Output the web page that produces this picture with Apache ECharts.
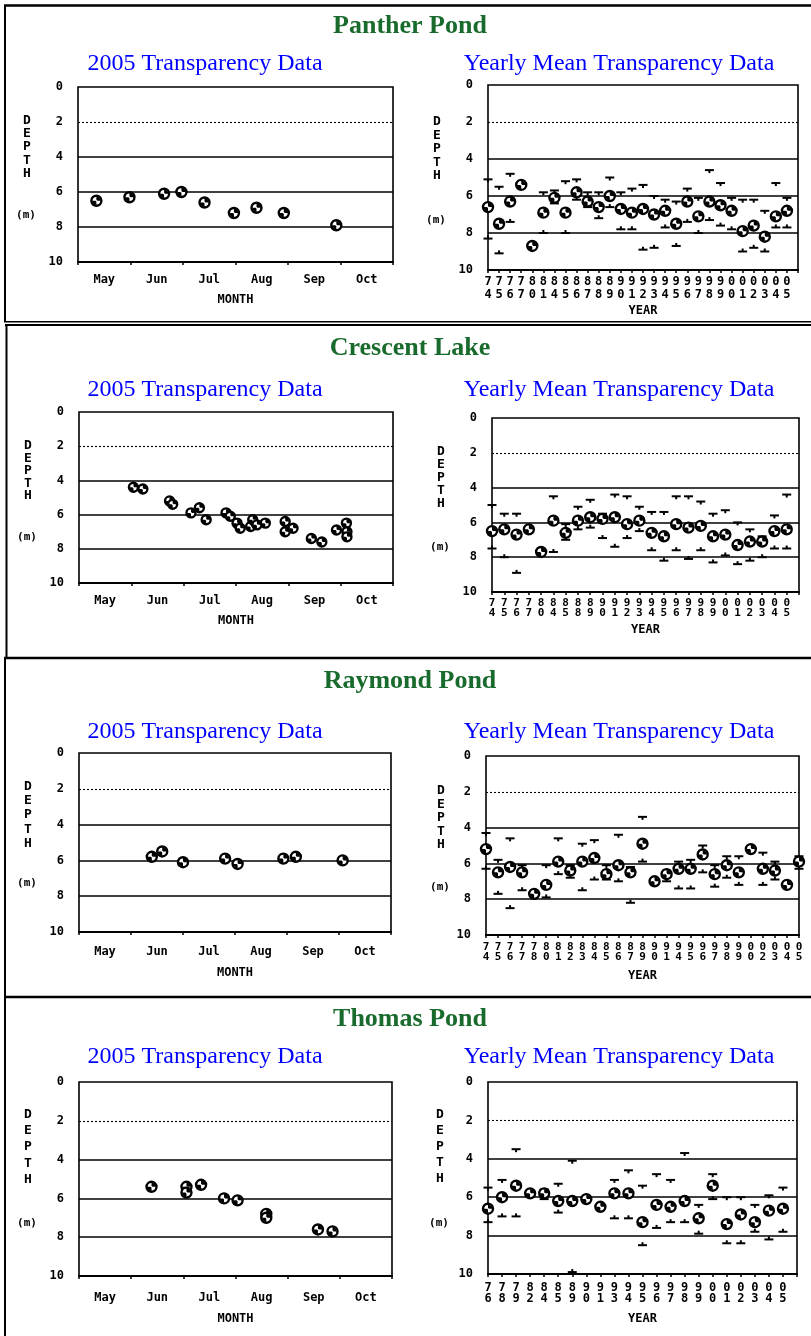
<!DOCTYPE html>
<html><head><meta charset="utf-8">
<script src="https://cdn.jsdelivr.net/npm/echarts@6/dist/echarts.min.js"></script>
<style>html,body{margin:0;padding:0;background:#fff}#c{width:811px;height:1336px}</style>
</head><body><div id="c"></div>
<script>
// ---------- DATA ----------
const months = ['May','Jun','Jul','Aug','Sep','Oct'];
const pondNames = ['Panther Pond','Crescent Lake','Raymond Pond','Thomas Pond'];

// 2005 readings: position in months after May 1, Secchi depth (m)
const pantherMonthPos   = [0.35,0.98,1.64,1.97,2.41,2.97,3.40,3.92,4.92];
const pantherMonthDepth = [6.5,6.3,6.1,6.0,6.6,7.2,6.9,7.2,7.9];
const crescentMonthPos   = [1.04,1.22,1.73,1.79,2.14,2.30,2.43,2.81,2.89,3.02,3.08,3.28,3.32,3.40,3.56,3.94,3.94,4.09,4.44,4.64,4.92,5.11,5.12,5.12];
const crescentMonthDepth = [4.4,4.5,5.2,5.4,5.9,5.6,6.3,5.9,6.1,6.5,6.8,6.7,6.3,6.6,6.5,6.4,7.0,6.8,7.4,7.6,6.9,6.5,7.0,7.3];
const raymondMonthPos   = [1.40,1.60,2.00,2.81,3.05,3.93,4.17,5.07];
const raymondMonthDepth = [5.8,5.5,6.1,5.9,6.2,5.9,5.8,6.0];
const thomasMonthPos   = [1.39,2.06,2.06,2.34,2.78,3.04,3.59,3.59,4.58,4.86];
const thomasMonthDepth = [5.4,5.4,5.7,5.3,6.0,6.1,6.8,7.0,7.6,7.7];

// Yearly: labels, mean, shallowest (upper mark), deepest (lower mark)
const pantherYears = ['74','75','76','77','80','81','84','85','86','87','88','89','90','91','92','93','94','95','96','97','98','99','00','01','02','03','04','05'];
const pantherMean  = [6.6,7.5,6.3,5.4,8.7,6.9,6.1,6.9,5.8,6.3,6.6,6.0,6.7,6.9,6.7,7.0,6.8,7.5,6.3,7.1,6.3,6.5,6.8,7.9,7.6,8.2,7.1,6.8];
const pantherMax   = [5.1,5.5,4.8,null,null,5.8,5.7,5.2,5.1,5.8,5.8,5.0,5.8,5.6,5.4,6.0,6.2,6.3,5.6,6.1,4.6,5.3,6.1,6.2,6.2,6.8,5.3,6.1];
const pantherMin   = [8.3,9.1,7.4,null,null,8.0,6.4,8.0,6.2,6.6,7.2,6.6,7.8,7.8,8.9,8.8,7.7,8.7,7.4,8.0,7.3,7.6,7.8,9.0,8.8,9.0,7.7,7.7];

const crescentYears = ['74','75','76','77','80','84','85','88','89','90','91','92','93','94','95','96','97','98','99','00','01','02','03','04','05'];
const crescentMean  = [6.5,6.4,6.7,6.4,7.7,5.9,6.6,5.9,5.7,5.8,5.7,6.1,5.9,6.6,6.8,6.1,6.3,6.2,6.8,6.7,7.3,7.1,7.1,6.5,6.4];
const crescentMax   = [5.0,5.5,5.5,null,null,4.5,6.1,5.1,4.7,5.5,4.4,4.5,5.1,5.4,5.4,4.5,4.5,4.8,5.5,5.3,6.0,6.4,6.8,5.6,4.4];
const crescentMin   = [7.5,8.0,8.9,null,null,7.7,7.0,6.4,6.3,6.9,7.4,6.9,6.5,7.6,8.2,7.6,8.1,7.6,8.3,7.9,8.4,8.2,8.0,7.5,7.5];

const raymondYears = ['74','75','76','77','78','80','81','82','83','84','85','86','87','89','90','91','94','95','96','97','98','99','00','02','03','04','05'];
const raymondMean  = [5.2,6.5,6.2,6.5,7.7,7.2,5.9,6.4,5.9,5.7,6.6,6.1,6.5,4.9,7.0,6.6,6.3,6.3,5.5,6.6,6.1,6.5,5.2,6.3,6.4,7.2,5.9];
const raymondMax   = [4.3,5.8,4.6,6.1,null,6.1,4.6,6.1,4.9,4.7,6.1,4.4,6.2,3.4,null,6.4,5.9,5.8,5.0,6.1,5.6,5.6,null,5.4,5.9,null,5.6];
const raymondMin   = [6.3,7.7,8.5,7.5,null,7.9,6.6,6.8,7.5,6.9,6.9,7.0,8.2,5.9,null,7.0,7.4,7.4,6.5,7.3,6.8,7.2,null,7.2,6.9,null,6.3];

const thomasYears = ['76','78','79','82','84','85','89','90','91','93','94','95','96','97','98','99','00','01','02','03','04','05'];
const thomasMean  = [6.6,6.0,5.4,5.8,5.8,6.2,6.2,6.1,6.5,5.8,5.8,7.3,6.4,6.5,6.2,7.1,5.4,7.4,6.9,7.3,6.7,6.6];
const thomasMax   = [5.5,5.1,3.5,null,5.6,5.3,4.1,null,null,5.1,4.6,5.4,4.8,5.1,3.7,6.4,4.8,6.0,6.0,6.4,5.9,5.5];
const thomasMin   = [7.3,7.0,7.0,null,6.1,6.8,9.9,null,null,7.1,7.1,8.5,7.6,7.3,7.3,7.9,6.1,8.4,8.4,7.8,8.2,7.8];

const refLines = [2,4,6,8];

// ---------- LAYOUT / STYLE ----------
const TITLE_FONT = 'bold 26px "Liberation Serif", "Times New Roman", serif';
const SUB_FONT = '24px "Liberation Serif", "Times New Roman", serif';
const MONO = '"DejaVu Sans Mono", monospace';
const GREEN = '#186b2c', BLUE = '#0000ff';

const layout = [
  { titleY: 26, subY: 64,
    L: {left:78, top:87, width:315, height:175, r:6, depthX:27, depthY:147, depthLH:13.3, mX:26, mY:215, lblMargin:12, nameGap:32},
    R: {left:488, top:85, width:310, height:185, r:6, depthX:437, depthY:149, depthLH:13.5, mX:436, mY:220, lblMargin:5, lh:13.3, fs:12, nameGap:35, pad:true} },
  { titleY: 348, subY: 390,
    L: {left:79, top:412, width:314, height:171, r:5.5, depthX:28, depthY:471, depthLH:12.5, mX:27, mY:537, lblMargin:12, nameGap:32},
    R: {left:492, top:418, width:307, height:174, r:6, depthX:441, depthY:478, depthLH:13, mX:440, mY:547, lblMargin:6, lh:10.3, fs:11, nameGap:32, pad:true} },
  { titleY: 681, subY: 732,
    L: {left:79, top:753, width:312, height:179, r:6, depthX:28, depthY:815, depthLH:14.2, mX:27, mY:883, lblMargin:13.5, nameGap:34.5},
    R: {left:486, top:756, width:313, height:179, r:6, depthX:441, depthY:818, depthLH:13.5, mX:440, mY:887, lblMargin:6.7, lh:10, fs:11, nameGap:35, pad:false} },
  { titleY: 1019, subY: 1057,
    L: {left:79, top:1082, width:313, height:194, r:6, depthX:28, depthY:1147, depthLH:16.2, mX:27, mY:1223, lblMargin:16, nameGap:37},
    R: {left:488, top:1082, width:309, height:192, r:6, depthX:440, depthY:1147, depthLH:16, mX:439, mY:1223, lblMargin:8.5, lh:11, fs:12, nameGap:39, pad:true} }
];

const monthly = [
  [pantherMonthPos, pantherMonthDepth],
  [crescentMonthPos, crescentMonthDepth],
  [raymondMonthPos, raymondMonthDepth],
  [thomasMonthPos, thomasMonthDepth]
];
const yearly = [
  [pantherYears, pantherMean, pantherMax, pantherMin],
  [crescentYears, crescentMean, crescentMax, crescentMin],
  [raymondYears, raymondMean, raymondMax, raymondMin],
  [thomasYears, thomasMean, thomasMax, thomasMin]
];

// ---------- RENDERERS ----------
function makeBall(r){
  return function(params, api){
    const p = api.coord([api.value(0), api.value(1)]);
    const ri = r * 0.72;
    return {type:'group', children:[
      {type:'circle', shape:{cx:p[0], cy:p[1], r:r-1}, style:{fill:'#fff', stroke:'#000', lineWidth:2.4}},
      {type:'sector', shape:{cx:p[0], cy:p[1], r0:0.8, r:ri, startAngle:-Math.PI/2, endAngle:0, clockwise:true}, style:{fill:'#000'}},
      {type:'sector', shape:{cx:p[0], cy:p[1], r0:0.8, r:ri, startAngle:Math.PI/2, endAngle:Math.PI, clockwise:true}, style:{fill:'#000'}}
    ]};
  };
}
function makeMark(dir){
  return function(params, api){
    const p = api.coord([api.value(0), api.value(1)]);
    return {type:'group', children:[
      {type:'line', shape:{x1:p[0]-4.5, y1:p[1], x2:p[0]+4.5, y2:p[1]}, style:{stroke:'#000', lineWidth:2}},
      {type:'line', shape:{x1:p[0], y1:p[1], x2:p[0], y2:p[1]+dir*3}, style:{stroke:'#000', lineWidth:2}}
    ]};
  };
}
function pairs(vals){ const out=[]; vals.forEach((v,i)=>{ if(v!=null) out.push([i,v]); }); return out; }

const markLine = {
  z: 1, silent: true, symbol: 'none', animation: false, label: {show:false},
  lineStyle: {color:'#000', width:1.6, type:'solid'},
  data: refLines.map(v => v === 2 ? {yAxis:v, lineStyle:{type:[2,2], width:1.1, color:'#000'}} : {yAxis:v})
};

const tickFont = {fontFamily: MONO, fontWeight:'bold', fontSize:12, color:'#000'};

const grids = [], xAxes = [], yAxes = [], series = [], graphics = [];

layout.forEach((lay, k) => {
  graphics.push({type:'text', x:410, y:lay.titleY, style:{text:pondNames[k], font:TITLE_FONT, fill:GREEN, align:'center', verticalAlign:'middle'}});
  graphics.push({type:'text', x:205, y:lay.subY, style:{text:'2005 Transparency Data', font:SUB_FONT, fill:BLUE, align:'center', verticalAlign:'middle'}});
  graphics.push({type:'text', x:619, y:lay.subY, style:{text:'Yearly Mean Transparency Data', font:SUB_FONT, fill:BLUE, align:'center', verticalAlign:'middle'}});

  ['L','R'].forEach(side => {
    const g = lay[side];
    graphics.push({type:'text', x:g.depthX, y:g.depthY, style:{text:'D\nE\nP\nT\nH', font:'bold 13px '+MONO, lineHeight:g.depthLH, fill:'#000', align:'center', verticalAlign:'middle'}});
    graphics.push({type:'text', x:g.mX, y:g.mY, style:{text:'(m)', font:'bold 11px '+MONO, fill:'#000', align:'center', verticalAlign:'middle'}});
  });

  // left monthly chart
  const gl = grids.length;
  grids.push({left:lay.L.left, top:lay.L.top, width:lay.L.width, height:lay.L.height, show:true, borderColor:'#000', borderWidth:1.6, containLabel:false});
  xAxes.push({type:'category', gridIndex:gl, position:'bottom', data:months, boundaryGap:true,
    axisLine:{onZero:false, lineStyle:{color:'#000', width:2}},
    axisTick:{show:true, length:3, lineStyle:{color:'#000', width:1.5}},
    axisLabel:Object.assign({margin:lay.L.lblMargin, interval:0}, tickFont),
    name:'MONTH', nameLocation:'middle', nameGap:lay.L.nameGap,
    nameTextStyle:{fontFamily:MONO, fontWeight:'bold', fontSize:12, color:'#000'},
    splitLine:{show:false}});
  const xVal = xAxes.length;
  xAxes.push({type:'value', gridIndex:gl, position:'top', min:0, max:6, show:false,
    axisLine:{show:false, onZero:false}, axisTick:{show:false}, axisLabel:{show:false}, splitLine:{show:false}});
  const yl = yAxes.length;
  yAxes.push({type:'value', gridIndex:gl, min:0, max:10, interval:2, inverse:true,
    axisLine:{show:false, onZero:false}, axisTick:{show:false}, splitLine:{show:false},
    axisLabel:Object.assign({margin:15}, tickFont)});
  series.push({type:'custom', xAxisIndex:xVal, yAxisIndex:yl, z:3,
    renderItem:makeBall(lay.L.r), encode:{x:0, y:1},
    data: monthly[k][0].map((m,i)=>[m, monthly[k][1][i]]),
    markLine: markLine});

  // right yearly chart
  const gr = grids.length;
  grids.push({left:lay.R.left, top:lay.R.top, width:lay.R.width, height:lay.R.height, show:true, borderColor:'#000', borderWidth:1.6, containLabel:false});
  const yrs = yearly[k][0];
  const cats = lay.R.pad ? yrs.concat(['']) : yrs.slice();
  const xr = xAxes.length;
  xAxes.push({type:'category', gridIndex:gr, position:'bottom', data:cats, boundaryGap:false,
    axisLine:{onZero:false, lineStyle:{color:'#000', width:2}},
    axisTick:{show:true, interval:0, length:3, lineStyle:{color:'#000', width:1.5}},
    axisLabel:{interval:0, margin:lay.R.lblMargin, fontFamily:MONO, fontWeight:'bold', fontSize:lay.R.fs, lineHeight:lay.R.lh, color:'#000',
      formatter: v => v ? v.charAt(0)+'\n'+v.charAt(1) : ''},
    name:'YEAR', nameLocation:'middle', nameGap:lay.R.nameGap,
    nameTextStyle:{fontFamily:MONO, fontWeight:'bold', fontSize:12, color:'#000'},
    splitLine:{show:false}});
  const yr = yAxes.length;
  yAxes.push({type:'value', gridIndex:gr, min:0, max:10, interval:2, inverse:true,
    axisLine:{show:false, onZero:false}, axisTick:{show:false}, splitLine:{show:false},
    axisLabel:Object.assign({margin:15}, tickFont)});
  series.push({type:'custom', xAxisIndex:xr, yAxisIndex:yr, z:2, renderItem:makeMark(1), encode:{x:0,y:1}, data:pairs(yearly[k][2]), markLine: markLine});
  series.push({type:'custom', xAxisIndex:xr, yAxisIndex:yr, z:2, renderItem:makeMark(-1), encode:{x:0,y:1}, data:pairs(yearly[k][3])});
  series.push({type:'custom', xAxisIndex:xr, yAxisIndex:yr, z:3, renderItem:makeBall(lay.R.r), encode:{x:0,y:1}, data:pairs(yearly[k][1])});
});

// panel borders
const borderLines = [
  [4,5.5,811,5.5,2.5],[5,5,5,322,2],[4,321.8,811,321.8,1.5],
  [5,325,811,325,2],[6.5,325,6.5,658,2],
  [4,658,811,658,2.5],[5,658,5,997,2],
  [4,997,811,997,2.5],[5,997,5,1336,2]
];
borderLines.forEach(b => graphics.push({type:'line', shape:{x1:b[0],y1:b[1],x2:b[2],y2:b[3]}, style:{stroke:'#000', lineWidth:b[4]}, silent:true}));

const chart = echarts.init(document.getElementById('c'), null, {renderer:'canvas'});
chart.setOption({animation:false, backgroundColor:'#fff', grid:grids, xAxis:xAxes, yAxis:yAxes, series:series, graphic:graphics});
</script></body></html>
